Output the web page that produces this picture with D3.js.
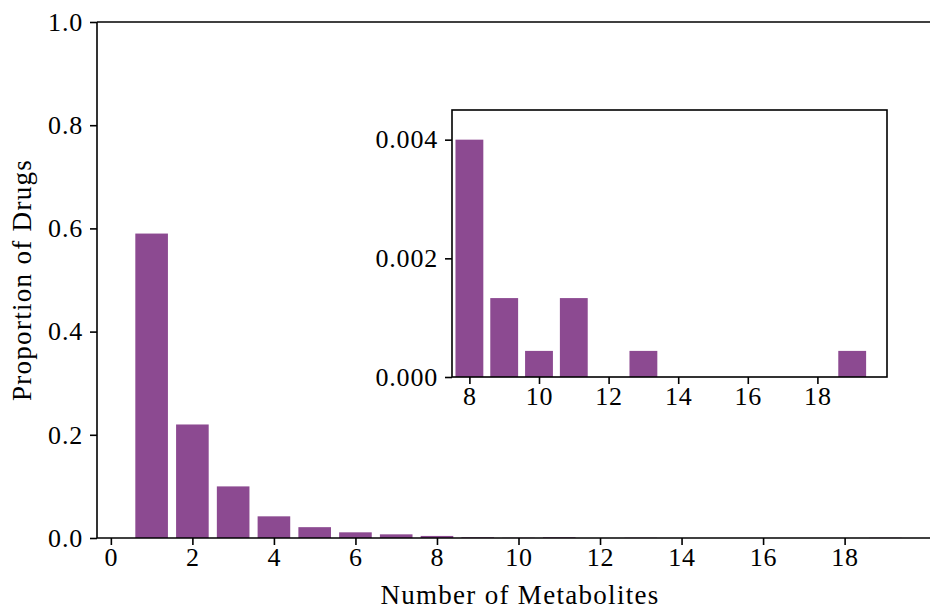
<!DOCTYPE html>
<html>
<head>
<meta charset="utf-8">
<script src="https://cdn.jsdelivr.net/npm/d3@7"></script>
<style>
  body { margin: 0; background: #fff; }
  svg { display: block; }
  text { font-family: "Liberation Serif", "DejaVu Serif", serif; fill: #000; }
  .tick text { font-size: 26px; letter-spacing: 0.8px; }
  .tick line { stroke: #000; stroke-width: 1.6; }
</style>
</head>
<body>
<div id="chart"></div>
<script>
// number of metabolites per drug, and proportion of drugs
var counts = [1, 2, 3, 4, 5, 6, 7, 8, 9, 10, 11, 13, 19];
var proportions = [0.590, 0.220, 0.100, 0.042, 0.021, 0.011, 0.0071, 0.0040, 0.00133, 0.00044, 0.00133, 0.00044, 0.00044];

var mainXTicks = [0, 2, 4, 6, 8, 10, 12, 14, 16, 18];
var mainYTicks = [0, 0.2, 0.4, 0.6, 0.8, 1.0];
var insetXTicks = [8, 10, 12, 14, 16, 18];
var insetYTicks = [0, 0.002, 0.004];

var barColor = "#8c4a91";

var svg = d3.select("#chart")
  .append("svg")
  .attr("width", 930)
  .attr("height", 612);

var data = counts.map(function (c, i) { return { n: c, p: proportions[i] }; });

function spine(g, x1, y1, x2, y2) {
  g.append("line")
    .attr("x1", x1).attr("y1", y1)
    .attr("x2", x2).attr("y2", y2)
    .attr("stroke", "#000").attr("stroke-width", 1.6);
}

// ---- main axes ----
var mLeft = 97, mTop = 22, mBottom = 538;
var x = d3.scaleLinear().domain([-0.34, 20.34]).range([mLeft, mLeft + 843]);
var y = d3.scaleLinear().domain([0, 1]).range([mBottom, mTop]);

var main = svg.append("g");

main.selectAll("rect.bar")
  .data(data)
  .enter()
  .append("rect")
  .attr("class", "bar")
  .attr("x", function (d) { return x(d.n - 0.4); })
  .attr("width", x(0.8) - x(0))
  .attr("y", function (d) { return y(d.p); })
  .attr("height", function (d) { return y(0) - y(d.p); })
  .style("fill", barColor);

main.append("g")
  .attr("transform", "translate(0," + mBottom + ")")
  .call(d3.axisBottom(x).tickValues(mainXTicks).tickSize(7).tickPadding(3).tickFormat(d3.format("d")))
  .call(function (g) { g.select(".domain").remove(); });

main.append("g")
  .attr("transform", "translate(" + mLeft + ",0)")
  .call(d3.axisLeft(y).tickValues(mainYTicks).tickSize(7).tickPadding(7).tickFormat(d3.format(".1f")))
  .call(function (g) { g.select(".domain").remove(); });

spine(main, mLeft, mTop, x.range()[1], mTop);
spine(main, mLeft, mBottom, x.range()[1], mBottom);
spine(main, mLeft, mTop, mLeft, mBottom);

main.append("text")
  .attr("x", 520)
  .attr("y", 604)
  .attr("text-anchor", "middle")
  .style("font-size", "27px")
  .style("letter-spacing", "1.3px")
  .text("Number of Metabolites");

main.append("text")
  .attr("transform", "translate(31," + (mTop + mBottom) / 2 + ") rotate(-90)")
  .attr("text-anchor", "middle")
  .style("font-size", "27px")
  .style("letter-spacing", "1.3px")
  .text("Proportion of Drugs");

// ---- inset axes ----
var iLeft = 452, iRight = 887, iTop = 110, iBottom = 377;
var xi = d3.scaleLinear().domain([7.5, 20]).range([iLeft, iRight]);
var yi = d3.scaleLinear().domain([0, 0.0045]).range([iBottom, iTop]);

var inset = svg.append("g");

inset.append("rect")
  .attr("x", iLeft).attr("y", iTop)
  .attr("width", iRight - iLeft).attr("height", iBottom - iTop)
  .style("fill", "#fff");

inset.selectAll("rect.bar")
  .data(data.filter(function (d) { return d.n >= 8; }))
  .enter()
  .append("rect")
  .attr("class", "bar")
  .attr("x", function (d) { return xi(d.n - 0.4); })
  .attr("width", xi(0.8) - xi(0))
  .attr("y", function (d) { return yi(d.p); })
  .attr("height", function (d) { return yi(0) - yi(d.p); })
  .style("fill", barColor);

inset.append("g")
  .attr("transform", "translate(0," + iBottom + ")")
  .call(d3.axisBottom(xi).tickValues(insetXTicks).tickSize(7).tickPadding(3).tickFormat(d3.format("d")))
  .call(function (g) { g.select(".domain").remove(); });

inset.append("g")
  .attr("transform", "translate(" + iLeft + ",0)")
  .call(d3.axisLeft(yi).tickValues(insetYTicks).tickSize(7).tickPadding(7).tickFormat(d3.format(".3f")))
  .call(function (g) { g.select(".domain").remove(); });

inset.append("rect")
  .attr("x", iLeft).attr("y", iTop)
  .attr("width", iRight - iLeft).attr("height", iBottom - iTop)
  .attr("fill", "none")
  .attr("stroke", "#000").attr("stroke-width", 1.6);
</script>
</body>
</html>
